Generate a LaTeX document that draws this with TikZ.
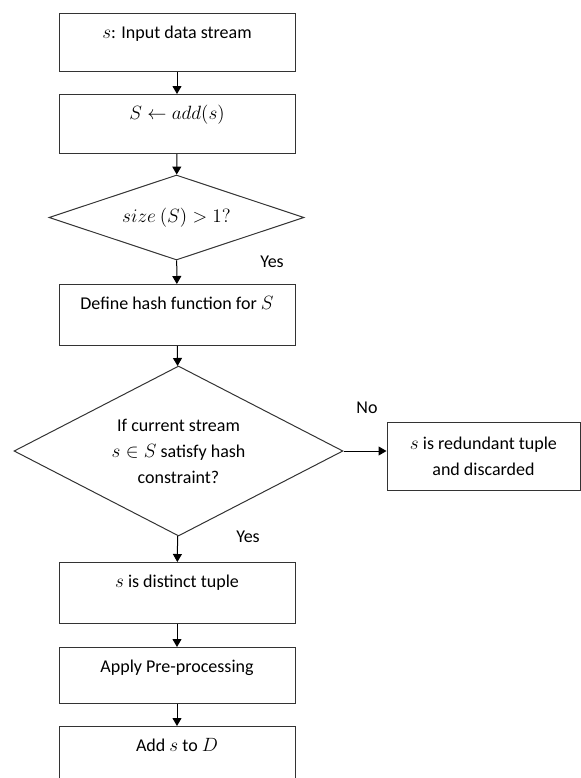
\documentclass[tikz,border=0pt]{standalone}
\usepackage{fontspec}
\setmainfont{Carlito}
\usetikzlibrary{shapes.geometric,arrows.meta}
\tikzstyle{stepbox}=[draw=black!80,line width=0.75pt,minimum width=177pt,text height=14.5pt,inner xsep=4pt,inner ysep=4pt,anchor=north]
\tikzstyle{test}=[diamond,aspect=2,draw=black!80,line width=0.75pt,inner sep=0pt,align=center]
\tikzstyle{answer}=[inner sep=0pt]

\begin{document}
\begin{tikzpicture}[x=0.75pt,y=-0.75pt,>={Triangle[width=6.75pt,length=6pt]},line width=0.75pt,font=\fontsize{13.5}{19.5}\selectfont]
\useasboundingbox (0,0) rectangle (581,778);
\node[stepbox,text depth=21pt] at (177,13) (in) {$s$: Input data stream};
\node[stepbox,text depth=21.75pt] at (177,94) (add) {$S \leftarrow add(s)$};
\node[test,minimum width=191.25pt,minimum height=63.75pt] at (176.5,217.5) (size) {$size\ (S) > 1?$};
\node[stepbox,text depth=23.25pt] at (177,284) (hash) {Define hash function for $S$};
\node[test,minimum width=246.75pt,minimum height=127.5pt] at (178.5,451) (check) {If current stream\\$s \in S$ satisfy hash\\constraint?};
\node[draw=black!80,minimum width=144.75pt,minimum height=51pt,align=center] at (483.5,456) (redundant) {$s$ is redundant tuple\\and discarded};
\node[stepbox,text depth=23.25pt] at (177,562) (distinct) {$s$ is distinct tuple};
\node[stepbox,text depth=19.5pt] at (177,647) (pre) {Apply Pre-processing};
\node[stepbox,text depth=30pt] at (177,726) (store) {Add $s$ to $D$};
\node[answer] at (272,262) (yes1) {Yes};
\node[answer] at (367,408) (no) {No};
\node[answer] at (248,537) (yes2) {Yes};
\draw[->] (in) edge (add);
\draw[->] (add) edge (size);
\draw[->] (size) edge (hash);
\draw[->] (hash) edge (check);
\draw[->] (check.east) -- (check.east -| redundant.west);
\draw[->] (check) edge (distinct);
\draw[->] (distinct) edge (pre);
\draw[->] (pre) edge (store);
\end{tikzpicture}
\end{document}
